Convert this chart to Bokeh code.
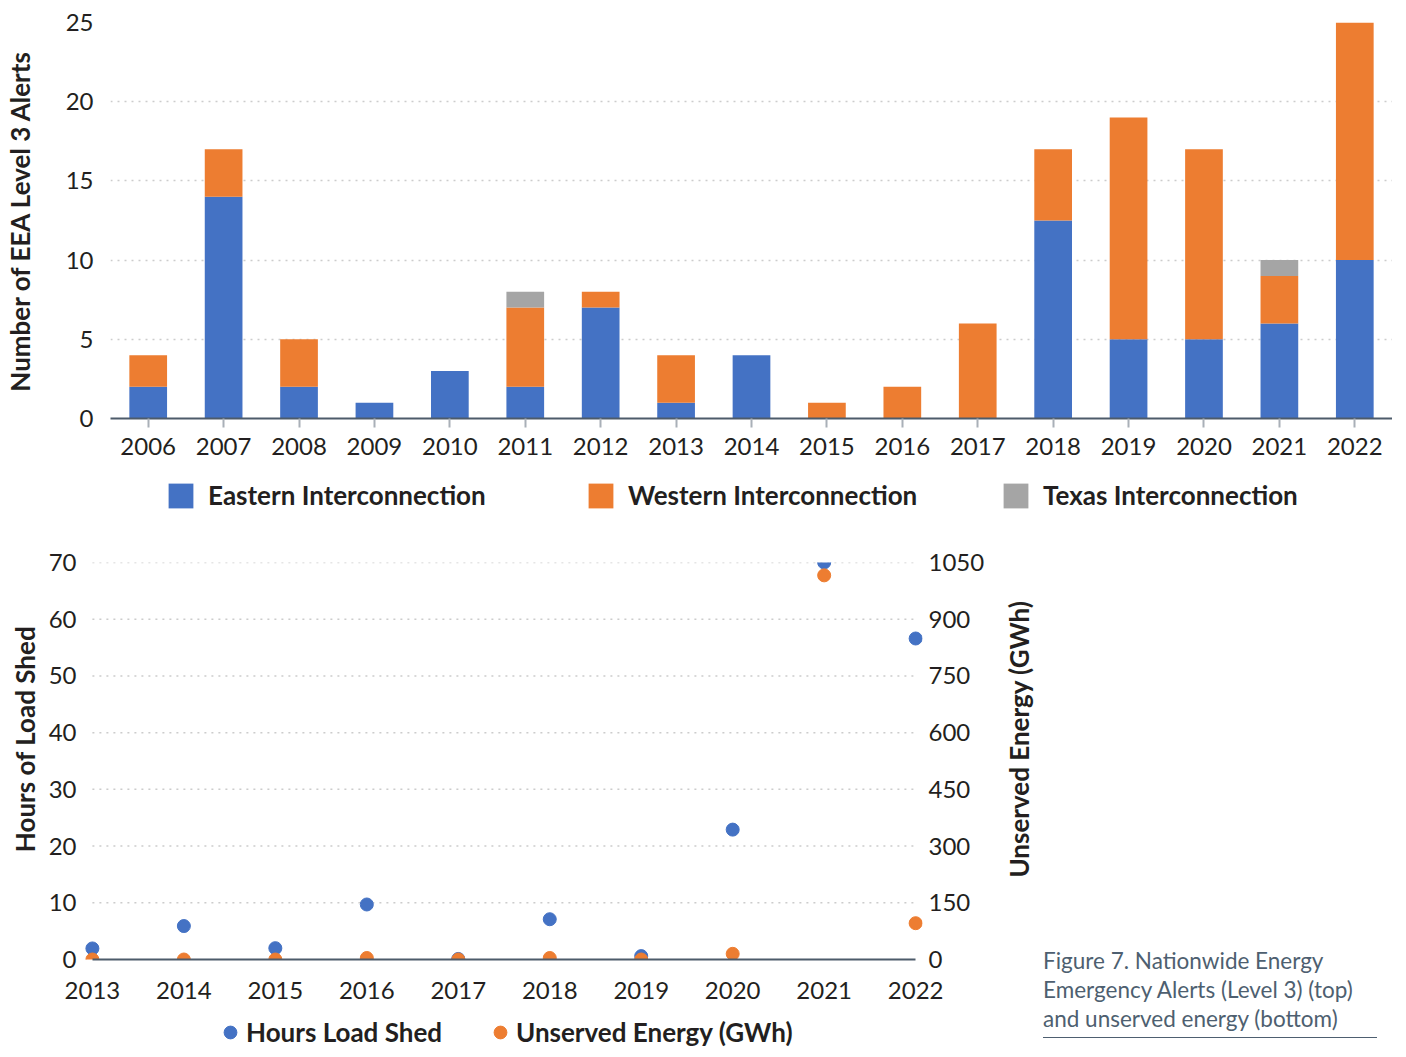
from bokeh.plotting import figure
from bokeh.models import (FactorRange, Range1d, LinearAxis, Legend, LegendItem, Div,
                          FixedTicker, ColumnDataSource)
from bokeh.layouts import column, row
from bokeh.embed import file_html
from bokeh.resources import INLINE

# ---------------- data ----------------
years_top = [str(y) for y in range(2006, 2023)]
eastern = [2, 14, 2, 1, 3, 2, 7, 1, 4, 0, 0, 0, 12.5, 5, 5, 6, 10]
western = [2, 3, 3, 0, 0, 5, 1, 3, 0, 1, 2, 6, 4.5, 14, 12, 3, 15]
texas = [0, 0, 0, 0, 0, 1, 0, 0, 0, 0, 0, 0, 0, 0, 0, 1, 0]
alert_ticks = [0, 5, 10, 15, 20, 25]
series_top = ["Eastern Interconnection", "Western Interconnection", "Texas Interconnection"]

years_bottom = [2013, 2014, 2015, 2016, 2017, 2018, 2019, 2020, 2021, 2022]
hours_load_shed = [1.95, 5.9, 2.0, 9.7, 0.1, 7.1, 0.6, 22.9, 70.0, 56.6]
unserved_energy_gwh = [0, 0, 0, 4, 0, 4, 0, 15, 1016, 96]
hours_ticks = [0, 10, 20, 30, 40, 50, 60, 70]
gwh_ticks = [0, 150, 300, 450, 600, 750, 900, 1050]
series_bottom = ["Hours Load Shed", "Unserved Energy (GWh)"]

BLUE = "#4472C4"
ORANGE = "#ED7D31"
GRAY = "#A5A5A5"
TEXT = "#231F20"
AXIS = "#4D5B6A"
GRID = "#CCCCCC"
CAPTION = "#4E5F70"
FONT = "Lato"


def style_axis(ax):
    ax.major_label_text_font = FONT
    ax.major_label_text_font_size = "24px"
    ax.major_label_text_color = TEXT
    ax.axis_label_text_font = FONT
    ax.axis_label_text_font_size = "26px"
    ax.axis_label_text_font_style = "bold"
    ax.axis_label_text_color = TEXT


def quiet_axis(ax):
    ax.axis_line_color = None
    ax.major_tick_line_color = None
    ax.minor_tick_line_color = None
    ax.major_tick_out = 0
    ax.major_tick_in = 0


def one_legend(label, renderer, loc, gw, gh, standoff):
    return Legend(items=[LegendItem(label=label, renderers=[renderer])],
                  location=loc, orientation="horizontal",
                  glyph_width=gw, glyph_height=gh, label_standoff=standoff,
                  padding=0, margin=0, border_line_color=None,
                  background_fill_alpha=0, label_text_font=FONT,
                  label_text_font_size="26px", label_text_font_style="bold",
                  label_text_color=TEXT)


def bare_strip(width, height, x_range, y_range, **borders):
    f = figure(width=width, height=height, x_range=x_range, y_range=y_range,
               output_backend="svg", toolbar_location=None,
               x_axis_location=None, y_axis_location=None, **borders)
    f.outline_line_color = None
    f.grid.visible = False
    return f


def title_strip(width, height, text, left, top, bottom, y_range):
    # a narrow figure whose left axis only carries a rotated axis title
    f = bare_strip(width, height, Range1d(0, 1), y_range,
                   min_border_left=left, min_border_right=0,
                   min_border_top=top, min_border_bottom=bottom)
    ax = LinearAxis(ticker=FixedTicker(ticks=[]), axis_label=text)
    quiet_axis(ax)
    ax.major_label_standoff = 0
    ax.axis_label_standoff = 0
    style_axis(ax)
    f.add_layout(ax, "left")
    return f


# ---------------- top chart ----------------
P1W = 1392
p1 = figure(x_range=FactorRange(factors=years_top), y_range=Range1d(0, 25),
            width=P1W, height=468, output_backend="svg", toolbar_location=None,
            min_border_left=104, min_border_right=0, min_border_top=22,
            min_border_bottom=50)
src = ColumnDataSource(dict(year=years_top, eastern=eastern, western=western, texas=texas))
p1.vbar_stack(["eastern", "western", "texas"], x="year", width=0.5,
              color=[BLUE, ORANGE, GRAY], line_color=None, source=src)

p1.outline_line_color = None
p1.xgrid.grid_line_color = None
p1.ygrid.grid_line_color = GRID
p1.ygrid.grid_line_dash = "2 5"
p1.ygrid.grid_line_width = 1.5
p1.yaxis.ticker = FixedTicker(ticks=alert_ticks)
quiet_axis(p1.yaxis[0])
p1.yaxis.major_label_standoff = 17
p1.yaxis.axis_label = "Number of EEA Level 3 Alerts"
p1.yaxis.axis_label_standoff = 27
style_axis(p1.xaxis[0])
style_axis(p1.yaxis[0])
p1.xaxis.axis_line_color = AXIS
p1.xaxis.axis_line_width = 2
p1.xaxis.major_tick_in = 0
p1.xaxis.major_tick_out = 9
p1.xaxis.major_tick_line_color = "#A9B0B8"
p1.xaxis.major_tick_line_width = 2
p1.xaxis.major_label_standoff = 10

# legend strip for the top chart (its frame is aligned with p1's frame);
# the host bars have zero width, the legend swatches keep the fill colours
leg1 = bare_strip(P1W, 44, FactorRange(factors=years_top), Range1d(-100000, -99990),
                  min_border=0, min_border_left=0, min_border_right=0,
                  min_border_top=0, min_border_bottom=0)
top_leg_x = [55, 475, 890]
for lab, col, field, lx in zip(series_top, [BLUE, ORANGE, GRAY],
                               ["eastern", "western", "texas"], top_leg_x):
    r = leg1.vbar(x="year", top=field, width=0, color=col, line_color=None, source=src)
    leg1.add_layout(one_legend(lab, r, (lx, 1), 31, 31, 12))

# ---------------- bottom chart ----------------
X0, X1 = 2012.87, 2022.075
P2W = 954
p2 = figure(x_range=Range1d(X0, X1), y_range=Range1d(0, 70),
            width=P2W, height=503, output_backend="svg", toolbar_location=None,
            min_border_left=32, min_border_right=77, min_border_top=50,
            min_border_bottom=56)
p2.extra_y_ranges = {"gwh": Range1d(0, 1050)}
p2.outline_line_color = None
p2.xgrid.visible = False
p2.ygrid.visible = False

grid_vals = hours_ticks[1:]
p2.segment(x0=[years_bottom[0]] * len(grid_vals), x1=[years_bottom[-1]] * len(grid_vals),
           y0=grid_vals, y1=grid_vals, line_color=GRID, line_dash="2 5", line_width=1.5)

p2.scatter(years_bottom, hours_load_shed, size=13, color=BLUE)
p2.scatter(years_bottom, unserved_energy_gwh, size=13, color=ORANGE, y_range_name="gwh")

p2.xaxis.ticker = FixedTicker(ticks=years_bottom)
p2.xaxis.bounds = (years_bottom[0], years_bottom[-1])
p2.xaxis.axis_line_color = AXIS
p2.xaxis.axis_line_width = 2
p2.xaxis.major_tick_line_color = None
p2.xaxis.minor_tick_line_color = None
p2.xaxis.major_tick_out = 0
p2.xaxis.major_tick_in = 0
p2.xaxis.major_label_standoff = 22

p2.yaxis.ticker = FixedTicker(ticks=hours_ticks)
quiet_axis(p2.yaxis[0])
p2.yaxis.major_label_standoff = 4

rax = LinearAxis(y_range_name="gwh", ticker=FixedTicker(ticks=gwh_ticks))
quiet_axis(rax)
rax.major_label_standoff = 6
p2.add_layout(rax, "right")

for ax in (p2.xaxis[0], p2.yaxis[0], rax):
    style_axis(ax)

# axis-title strips left and right of the bottom chart
lt = title_strip(45, 537, "Hours of Load Shed", 40, 28, 112, Range1d(0, 70))
rt = title_strip(40, 537, "Unserved Energy (GWh)", 33, 28, 112, Range1d(0, 1050))

# legend strip for the bottom chart (its frame is aligned with p2's frame);
# the host markers have zero size, the legend draws its own circles
leg2 = bare_strip(P2W, 34, Range1d(X0, X1), Range1d(-100000, -99990),
                  min_border=0, min_border_left=0, min_border_right=0,
                  min_border_top=0, min_border_bottom=0)
bot_leg_x = [134, 404]
for lab, col, vals, lx in zip(series_bottom, [BLUE, ORANGE],
                              [hours_load_shed, unserved_energy_gwh], bot_leg_x):
    r = leg2.scatter(years_bottom, vals, size=0, color=col)
    leg2.add_layout(one_legend(lab, r, (lx, 1), 32, 32, 0))

caption = Div(text=(
    '<div style="font-family:Lato;font-size:22.5px;line-height:29px;color:%s;'
    'width:334px;margin-top:434px;padding-bottom:4px;'
    'border-bottom:1.5px solid %s;">'
    'Figure 7. Nationwide Energy<br>Emergency Alerts (Level 3) (top)<br>'
    'and unserved energy (bottom)</div>') % (CAPTION, CAPTION),
    width=340, height=537, margin=(0, 0, 0, 4))

layout = column(p1, leg1,
                row(lt, column(p2, leg2, spacing=0), rt, caption, spacing=0),
                spacing=0)

open("out.html", "w").write(file_html(layout, INLINE))
